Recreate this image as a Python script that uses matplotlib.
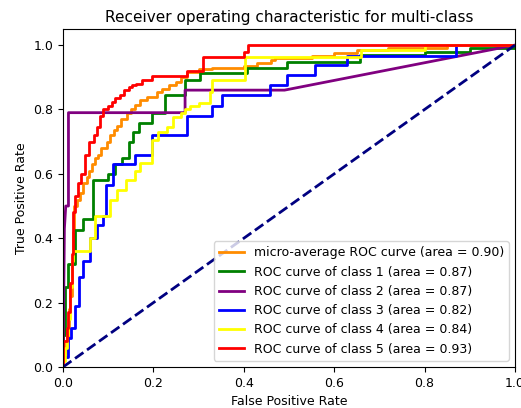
import numpy as np
import matplotlib
matplotlib.use("Agg")
import matplotlib.pyplot as plt

# ROC step points (x = FPR, y = TPR)
micro_fpr = [0, 0, 0.006, 0.01, 0.014, 0.016, 0.019, 0.022, 0.025, 0.03, 0.038, 0.045, 0.052, 0.058,
             0.063, 0.07, 0.078, 0.085, 0.097, 0.105, 0.112, 0.119, 0.128, 0.141, 0.15, 0.16, 0.17,
             0.185, 0.207, 0.22, 0.235, 0.25, 0.262, 0.275, 0.30, 0.33, 0.40, 0.43, 0.46, 0.47, 0.55,
             0.60, 0.65, 0.72, 0.85, 1.0]
micro_tpr = [0, 0.03, 0.08, 0.12, 0.18, 0.22, 0.33, 0.42, 0.50, 0.52, 0.54, 0.57, 0.59, 0.61,
             0.63, 0.65, 0.66, 0.68, 0.70, 0.72, 0.735, 0.75, 0.77, 0.79, 0.80, 0.815, 0.83,
             0.84, 0.855, 0.865, 0.875, 0.885, 0.90, 0.917, 0.925, 0.93, 0.935, 0.945, 0.955, 0.96, 0.965,
             0.975, 0.985, 0.99, 1.0, 1.0]

c1_fpr = [0, 0, 0.004, 0.01, 0.027, 0.044, 0.067, 0.1, 0.114, 0.13, 0.145, 0.155, 0.167, 0.196,
          0.226, 0.27, 0.303, 0.406, 0.495, 0.657, 0.8, 0.9, 1.0]
c1_tpr = [0, 0.1, 0.25, 0.32, 0.425, 0.46, 0.58, 0.60, 0.63, 0.65, 0.70, 0.73, 0.757, 0.79,
          0.845, 0.89, 0.914, 0.93, 0.948, 0.968, 0.98, 0.99, 1.0]

c2_fpr = [0, 0.001, 0.003, 0.006, 0.012, 0.012, 0.27, 0.27, 0.49, 1.0]
c2_tpr = [0, 0.14, 0.43, 0.50, 0.50, 0.79, 0.79, 0.86, 0.86, 1.0]

c3_fpr = [0, 0, 0.012, 0.018, 0.027, 0.035, 0.045, 0.06, 0.075, 0.089, 0.095, 0.111, 0.159, 0.196,
          0.274, 0.33, 0.351, 0.458, 0.495, 0.557, 0.628, 0.87, 1.0]
c3_tpr = [0, 0.03, 0.09, 0.12, 0.19, 0.28, 0.33, 0.40, 0.44, 0.47, 0.565, 0.63, 0.66, 0.72,
          0.78, 0.81, 0.845, 0.876, 0.907, 0.938, 0.965, 1.0, 1.0]

c4_fpr = [0, 0, 0.004, 0.008, 0.012, 0.016, 0.02, 0.023, 0.06, 0.071, 0.08, 0.104, 0.12, 0.14,
          0.16, 0.17, 0.196, 0.21, 0.23, 0.244, 0.26, 0.27, 0.28, 0.30, 0.325, 0.33, 0.403,
          0.66, 0.80, 1.0]
c4_tpr = [0, 0.02, 0.06, 0.10, 0.15, 0.25, 0.33, 0.36, 0.40, 0.47, 0.47, 0.52, 0.55, 0.58,
          0.61, 0.633, 0.705, 0.73, 0.745, 0.777, 0.79, 0.80, 0.81, 0.82, 0.855, 0.89, 0.963,
          0.985, 1.0, 1.0]

c5_fpr = [0, 0, 0.008, 0.012, 0.016, 0.02, 0.022, 0.026, 0.032, 0.04, 0.048, 0.058, 0.068, 0.076,
          0.082, 0.089, 0.1, 0.108, 0.115, 0.126, 0.135, 0.145, 0.152, 0.162, 0.174, 0.196,
          0.274, 0.31, 0.40, 0.41, 1.0]
c5_tpr = [0, 0.08, 0.12, 0.17, 0.26, 0.35, 0.48, 0.53, 0.57, 0.60, 0.66, 0.70, 0.72, 0.746,
          0.78, 0.80, 0.81, 0.824, 0.835, 0.845, 0.86, 0.87, 0.875, 0.88, 0.89, 0.904,
          0.92, 0.962, 0.98, 1.0, 1.0]

labels = ['micro-average ROC curve (area = 0.90)',
          'ROC curve of class 1 (area = 0.87)',
          'ROC curve of class 2 (area = 0.87)',
          'ROC curve of class 3 (area = 0.82)',
          'ROC curve of class 4 (area = 0.84)',
          'ROC curve of class 5 (area = 0.93)']
colors = ['darkorange', 'green', 'purple', 'blue', 'yellow', 'red']
curves = [(micro_fpr, micro_tpr), (c1_fpr, c1_tpr), (c2_fpr, c2_tpr),
          (c3_fpr, c3_tpr), (c4_fpr, c4_tpr), (c5_fpr, c5_tpr)]
styles = ['steps-post', 'steps-post', 'default', 'steps-post', 'steps-post', 'steps-post']

fig = plt.figure(figsize=(5.21, 4.08), dpi=100)
ax = fig.add_axes([0.121, 0.1005, 0.8675, 0.8285])

for (f, t), c, lab, ds in zip(curves, colors, labels, styles):
    ax.plot(f, t, color=c, lw=2, label=lab, drawstyle=ds)

ax.plot([0, 1], [0, 1], color='navy', lw=2, linestyle='--')
ax.set_xlim([0.0, 1.0])
ax.set_ylim([0.0, 1.05])
ax.set_xlabel('False Positive Rate', fontsize=9)
ax.set_ylabel('True Positive Rate', fontsize=9)
ax.set_title('Receiver operating characteristic for multi-class', fontsize=11, pad=5)
ax.tick_params(labelsize=9)
ax.legend(loc='lower right', fontsize=9)

fig.savefig('out.png', dpi=100)
